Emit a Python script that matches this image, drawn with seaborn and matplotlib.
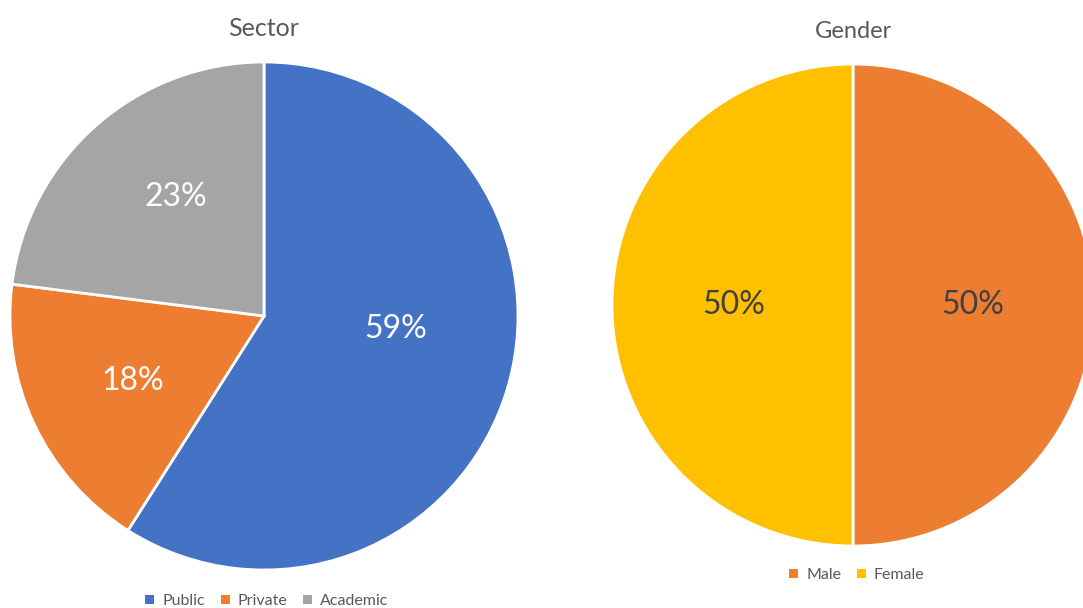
import matplotlib
matplotlib.use("Agg")
import matplotlib.pyplot as plt
import seaborn as sns

sector_labels = ["Public", "Private", "Academic"]
sector_values = [59, 18, 23]
gender_labels = ["Male", "Female"]
gender_values = [50, 50]

sector_colors = ["#4472C4", "#ED7D31", "#A5A5A5"]
gender_colors = ["#ED7D31", "#FFC000"]

sns.set_theme(style="white")
plt.rcParams["font.family"] = ["Lato", "DejaVu Sans"]

W, H = 1083, 608
fig = plt.figure(figsize=(W / 100, H / 100), dpi=100)
fig.patch.set_facecolor("white")


def px_axes(cx, cy, r):
    return fig.add_axes([(cx - r) / W, (H - (cy + r)) / H, 2 * r / W, 2 * r / H])


text_gray = "#595959"

# Sector pie
ax1 = px_axes(264, 316, 254)
w1, t1, a1 = ax1.pie(
    sector_values, colors=sns.color_palette(sector_colors), startangle=90,
    counterclock=False, autopct="%1.0f%%", pctdistance=0.575,
    wedgeprops=dict(edgecolor="white", linewidth=2),
    textprops=dict(color="white", fontsize=23),
)
a1[0].set_position((0.52, -0.05))
a1[1].set_position((-0.516, -0.255))
a1[2].set_position((-0.346, 0.469))
ax1.set_xlim(-1, 1); ax1.set_ylim(-1, 1); ax1.set_aspect("equal"); ax1.axis("off")

# Gender pie
ax2 = px_axes(853, 305, 241)
w2, t2, a2 = ax2.pie(
    gender_values, colors=sns.color_palette(gender_colors), startangle=90,
    counterclock=False, autopct="%1.0f%%", pctdistance=0.495,
    wedgeprops=dict(edgecolor="white", linewidth=2),
    textprops=dict(color="#404040", fontsize=23),
)
ax2.set_xlim(-1, 1); ax2.set_ylim(-1, 1); ax2.set_aspect("equal"); ax2.axis("off")

fig.text(264 / W, 1 - 28 / H, "Sector", ha="center", va="center", fontsize=18, color=text_gray)
fig.text(853 / W, 1 - 32 / H, "Gender", ha="center", va="center", fontsize=17, color=text_gray)

leg_kw = dict(frameon=False, ncol=3, handlelength=0.55, handleheight=0.55, handletextpad=0.5,
              columnspacing=1.0, fontsize=11.5, labelcolor=text_gray, borderaxespad=0, borderpad=0)
l1 = fig.legend(w1, sector_labels, loc="center", bbox_to_anchor=(267 / W, 1 - 601 / H), **leg_kw)
l2 = fig.legend(w2, gender_labels, loc="center", bbox_to_anchor=(857 / W, 1 - 575 / H), **leg_kw)
for leg in (l1, l2):
    for h in leg.legend_handles:
        h.set_edgecolor("none")

fig.savefig("out.png", dpi=100, facecolor="white")
